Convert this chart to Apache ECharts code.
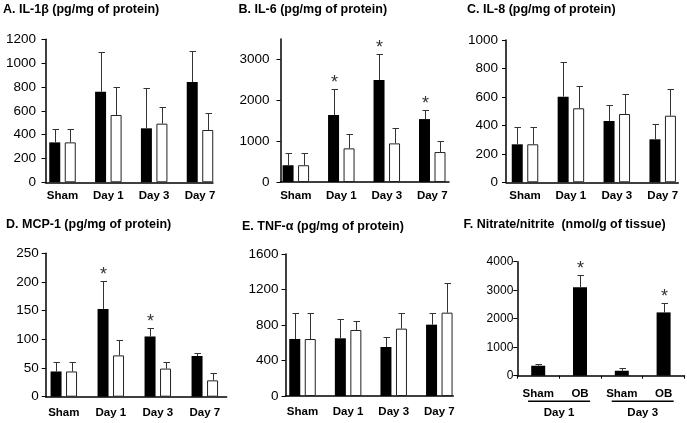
<!DOCTYPE html>
<html><head><meta charset="utf-8">
<script src="https://cdn.jsdelivr.net/npm/echarts@6/dist/echarts.min.js"></script>
<style>html,body{margin:0;padding:0;background:#fff}#c{width:687px;height:423px}</style>
</head><body><div id="c"></div><script>
// ---------- data ----------
const groups = ['Sham', 'Day 1', 'Day 3', 'Day 7'];
const fCats = ['Sham', 'OB', 'Sham', 'OB'];
const fGroups = ['Day 1', 'Day 3'];
const titles = [
  'A. IL-1β (pg/mg of protein)',
  'B. IL-6 (pg/mg of protein)',
  'C. IL-8 (pg/mg of protein)',
  'D. MCP-1 (pg/mg of protein)',
  'E. TNF-α (pg/mg of protein)',
  'F. Nitrate/nitrite  (nmol/g of tissue)'
];
// A. IL-1β
const il1bBlack = [335, 760, 453, 841];
const il1bBlackErr = [110, 330, 341, 260];
const il1bWhite = [335, 565, 492, 439];
const il1bWhiteErr = [110, 237, 140, 145];
const il1bTicks = [0, 200, 400, 600, 800, 1000, 1200];
// B. IL-6
const il6Black = [410, 1640, 2495, 1540];
const il6BlackErr = [307, 626, 626, 212];
const il6BlackSig = [0, 1, 1, 1];
const il6White = [410, 823, 945, 733];
const il6WhiteErr = [307, 359, 383, 277];
const il6Ticks = [0, 1000, 2000, 3000];
// C. IL-8
const il8Black = [267, 602, 431, 302];
const il8BlackErr = [119, 243, 115, 108];
const il8White = [267, 520, 480, 468];
const il8WhiteErr = [119, 157, 141, 185];
const il8Ticks = [0, 200, 400, 600, 800, 1000];
// D. MCP-1
const mcpBlack = [44, 153, 105, 71];
const mcpBlackErr = [16, 49, 14, 6];
const mcpBlackSig = [0, 1, 1, 0];
const mcpWhite = [44, 72, 49, 28.5];
const mcpWhiteErr = [16, 26, 11, 13.5];
const mcpTicks = [0, 50, 100, 150, 200, 250];
// E. TNF-α
const tnfBlack = [642, 650, 552, 804];
const tnfBlackErr = [297, 221, 113, 135];
const tnfWhite = [642, 744, 759, 939];
const tnfWhiteErr = [297, 97, 180, 338];
const tnfTicks = [0, 400, 800, 1200, 1600];
// F. Nitrate/nitrite
const noxValues = [350, 3105, 174, 2221];
const noxErr = [70, 442, 82, 326];
const noxSig = [0, 1, 0, 1];
const noxTicks = [0, 1000, 2000, 3000, 4000];

// ---------- layout / style ----------
const FONT = '"Liberation Sans", Arial, sans-serif';
const BAR_W = 11, BAR_GAP = 4.5;
const DX = (BAR_W + BAR_GAP) / 2;
const plain = v => String(v);

const panels = [
  {grid:{left:45.5, top:39.3, width:167.5, height:143}, xmin:-0.371, xmax:3.284, ymax:1200, ticks:il1bTicks, lm:9.5,
   black:il1bBlack, blackErr:il1bBlackErr, white:il1bWhite, whiteErr:il1bWhiteErr},
  {grid:{left:280.5, top:39, width:168.5, height:143}, xmin:-0.337, xmax:3.368, ymax:3500, ticks:il6Ticks, lm:11,
   black:il6Black, blackErr:il6BlackErr, blackSig:il6BlackSig, white:il6White, whiteErr:il6WhiteErr},
  {grid:{left:506, top:40, width:172.3, height:142.3}, xmin:-0.414, xmax:3.34, ymax:1000, ticks:il8Ticks, lm:8,
   black:il8Black, blackErr:il8BlackErr, white:il8White, whiteErr:il8WhiteErr},
  {grid:{left:45.7, top:253.3, width:181, height:143.4}, xmin:-0.385, xmax:3.466, ymax:250, ticks:mcpTicks, lm:7,
   black:mcpBlack, blackErr:mcpBlackErr, blackSig:mcpBlackSig, white:mcpWhite, whiteErr:mcpWhiteErr},
  {grid:{left:285.5, top:254, width:167.8, height:142}, xmin:-0.373, xmax:3.307, ymax:1600, ticks:tnfTicks, lm:7,
   black:tnfBlack, blackErr:tnfBlackErr, white:tnfWhite, whiteErr:tnfWhiteErr}
];
const fGrid = {left:517.3, top:261.7, width:167.2, height:114};
const titlePos = [[3,3.5],[238.5,3.5],[467,3.5],[6,218.5],[242,220],[463.5,218.5]];

function errSeries(xi, means, errs, sig, dx) {
  return {
    type:'custom', xAxisIndex:xi, yAxisIndex:xi, silent:true, z:5, clip:false,
    data: means.map((m, i) => [i, m, m + errs[i], sig ? sig[i] : 0]),
    encode:{x:0, y:1},
    renderItem: function (params, api) {
      const x = api.value(0), m = api.value(1), t = api.value(2), s = api.value(3);
      const p0 = api.coord([x, m]);
      const p1 = api.coord([x, t]);
      const cx = Math.round(p0[0] + dx) + 0.5;
      const ty = Math.round(p1[1]) + 0.5;
      const children = [
        {type:'line', shape:{x1:cx, y1:p0[1], x2:cx, y2:ty}, style:{stroke:'#333', lineWidth:1}},
        {type:'line', shape:{x1:cx - 3, y1:ty, x2:cx + 3.5, y2:ty}, style:{stroke:'#333', lineWidth:1}}
      ];
      if (s) {
        children.push({type:'text', x:cx, y:ty - 6,
          style:{text:'*', fill:'#333', font:'18px ' + FONT, align:'center', verticalAlign:'middle'}});
      }
      return {type:'group', children:children};
    }
  };
}

const grids = [], xAxes = [], yAxes = [], series = [], titleArr = [];
const axisLineStyle = {color:'#000', width:1.5};

titles.forEach((t, i) => {
  titleArr.push({text:t, left:titlePos[i][0], top:titlePos[i][1], padding:0,
    textStyle:{fontFamily:FONT, fontSize:12.5, fontWeight:'bold', color:'#000'}});
});

panels.forEach((p, i) => {
  grids.push(Object.assign({containLabel:false, outerBoundsMode:'none'}, p.grid));
  xAxes.push({
    type:'value', gridIndex:i, min:p.xmin, max:p.xmax,
    axisLine:{show:true, onZero:false, lineStyle:axisLineStyle},
    axisTick:{show:false}, splitLine:{show:false},
    axisLabel:{customValues:[0,1,2,3], formatter:v => groups[Math.round(v)] || '',
      fontFamily:FONT, fontSize:11.5, fontWeight:'bold', color:'#000', margin:i >= 3 ? 10 : 8}
  });
  yAxes.push({
    type:'value', gridIndex:i, min:0, max:p.ymax,
    axisLine:{show:true, onZero:false, lineStyle:axisLineStyle},
    axisTick:{show:true, length:4, inside:false, customValues:p.ticks, lineStyle:{color:'#000', width:1}},
    splitLine:{show:false},
    axisLabel:{customValues:p.ticks, formatter:plain, fontFamily:FONT, fontSize:13.5, color:'#000', margin:p.lm}
  });
  series.push({
    type:'bar', xAxisIndex:i, yAxisIndex:i, barWidth:BAR_W, barGap:(BAR_GAP / BAR_W * 100) + '%',
    data:p.black.map((v, k) => [k, v]), itemStyle:{color:'#000'}, silent:true
  });
  series.push({
    type:'bar', xAxisIndex:i, yAxisIndex:i, barWidth:BAR_W, barGap:(BAR_GAP / BAR_W * 100) + '%',
    data:p.white.map((v, k) => [k, v]), itemStyle:{color:'#fff', borderColor:'#222', borderWidth:1}, silent:true
  });
  series.push(errSeries(i, p.black, p.blackErr, p.blackSig, -DX));
  series.push(errSeries(i, p.white, p.whiteErr, null, DX));
});

// Panel F
grids.push(Object.assign({containLabel:false, outerBoundsMode:'none'}, fGrid));
xAxes.push({
  type:'category', gridIndex:5, data:fCats, boundaryGap:true,
  axisLine:{show:true, onZero:false, lineStyle:axisLineStyle},
  axisTick:{show:true, length:3, inside:false, alignWithLabel:false, lineStyle:{color:'#000', width:1}},
  splitLine:{show:false},
  axisLabel:{interval:0, fontFamily:FONT, fontSize:11.5, fontWeight:'bold', color:'#000', margin:12}
});
yAxes.push({
  type:'value', gridIndex:5, min:0, max:4000, interval:1000,
  axisLine:{show:true, onZero:false, lineStyle:axisLineStyle},
  axisTick:{show:true, length:4, customValues:noxTicks, lineStyle:{color:'#000', width:1}},
  splitLine:{show:false},
  axisLabel:{customValues:noxTicks, formatter:plain, fontFamily:FONT, fontSize:12, color:'#000', margin:4}
});
series.push({type:'bar', xAxisIndex:5, yAxisIndex:5, barWidth:14, data:noxValues,
  itemStyle:{color:'#000'}, silent:true});
series.push(errSeries(5, noxValues, noxErr, noxSig, 0));

const chart = echarts.init(document.getElementById('c'), null, {renderer:'canvas'});
chart.setOption({
  animation:false, backgroundColor:'#fff',
  title:titleArr, grid:grids, xAxis:xAxes, yAxis:yAxes, series:series
});

// group labels under panel F
const graphics = [];
fGroups.forEach((g, k) => {
  const a = chart.convertToPixel({xAxisIndex:5, yAxisIndex:5}, [k * 2, 0]);
  const b = chart.convertToPixel({xAxisIndex:5, yAxisIndex:5}, [k * 2 + 1, 0]);
  const mid = (a[0] + b[0]) / 2;
  const y = a[1];
  graphics.push({type:'line', shape:{x1:mid - 31, y1:y + 25.5, x2:mid + 31, y2:y + 25.5},
    style:{stroke:'#000', lineWidth:1.5}, silent:true});
  graphics.push({type:'text', x:mid, y:y + 37, style:{text:g, font:'bold 11.5px ' + FONT,
    fill:'#000', align:'center', verticalAlign:'middle'}, silent:true});
});
chart.setOption({graphic:graphics});
</script></body></html>
